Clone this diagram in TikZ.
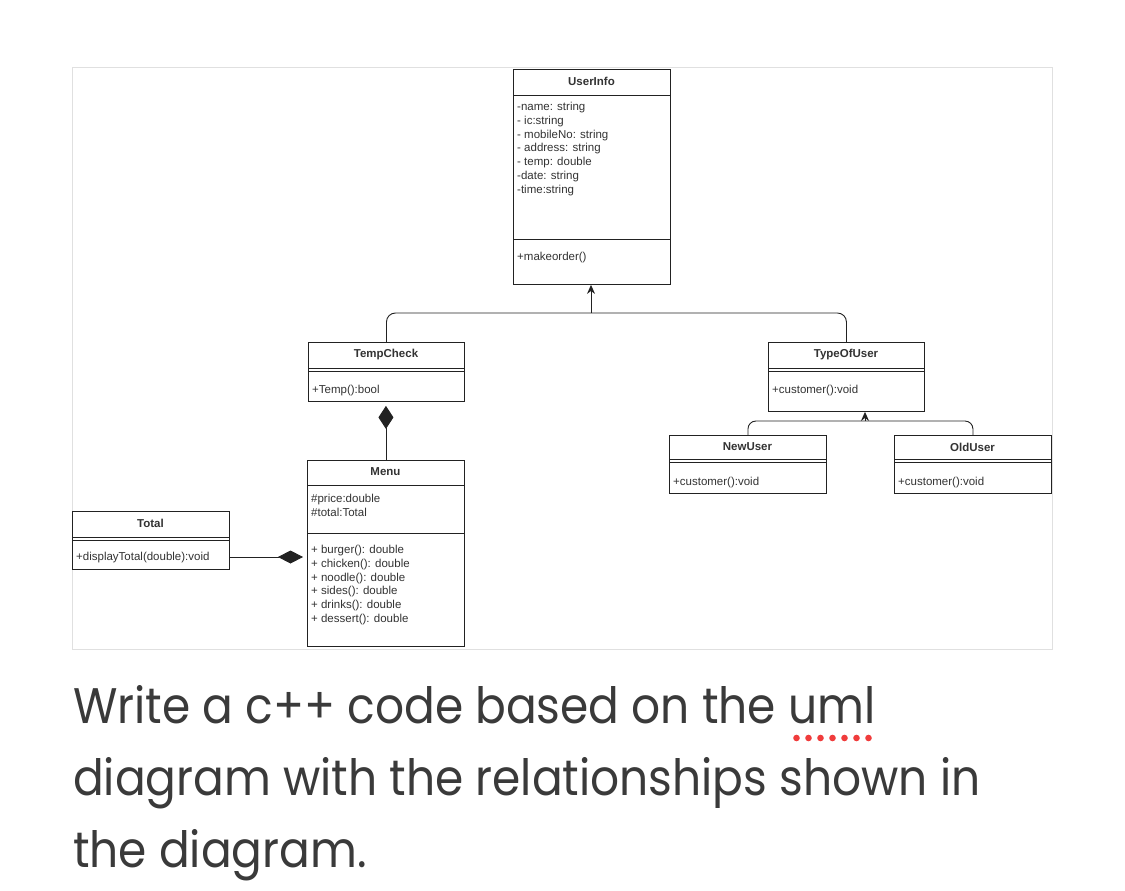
\documentclass[tikz,border=0pt]{standalone}
\usepackage{fontspec}
\setmainfont{Liberation Sans}
\newfontfamily\popfont{Poppins}
\usetikzlibrary{arrows.meta}
\definecolor{linec}{HTML}{222222}
\definecolor{txtc}{HTML}{333333}
\definecolor{framec}{HTML}{E0E0E0}
\definecolor{bigtxt}{HTML}{3A3A3A}
\definecolor{dotred}{HTML}{F03C3C}
\newcommand{\bigline}[1]{\scalebox{0.91}[1]{#1}}
\tikzset{
  cls/.style={draw=linec, line width=0.9pt, rectangle, anchor=north west, inner sep=0pt, fill=white},
  ctitle/.style={font=\fontsize{11.5}{13.8}\selectfont\bfseries, text=txtc, inner sep=0pt},
  cbody/.style={font=\fontsize{11.5}{13.8}\selectfont, text=txtc, inner sep=0pt, anchor=north west, align=left},
  sep/.style={draw=linec, line width=0.9pt},
  conn/.style={draw=linec, line width=0.9pt},
  bigtext/.style={font=\popfont\fontsize{50}{72}\selectfont, text=bigtxt, inner sep=0pt, anchor=base west},
}
\begin{document}
\begin{tikzpicture}[x=1pt,y=-1pt]
\useasboundingbox (0,0) rectangle (1125,891);
\fill[white] (0,0) rectangle (1125,891);
% frame
\draw[framec, line width=1pt] (72,68) rectangle (1052,649);

% UserInfo
\node[cls, minimum width=157pt, minimum height=215pt] (userinfo) at (513,69) {};
\node[ctitle] at (591.5,81) {UserInfo};
\draw[sep] (513,95) -- (670,95);
\node[cbody] at (517,102) {-name: string\\- ic:string\\- mobileNo: string\\- address: string\\- temp: double\\-date: string\\-time:string};
\draw[sep] (513,239) -- (670,239);
\node[cbody] at (517,252) {+makeorder()};

% TempCheck
\node[cls, minimum width=156pt, minimum height=59pt] (tempcheck) at (308,342) {};
\node[ctitle] at (386,355) {TempCheck};
\draw[sep] (308,368) -- (464,368);
\draw[sep] (308,371) -- (464,371);
\node[cbody] at (312,385) {+Temp():bool};

% TypeOfUser
\node[cls, minimum width=156pt, minimum height=69pt] (typeofuser) at (768,342) {};
\node[ctitle] at (846,355) {TypeOfUser};
\draw[sep] (768,368) -- (924,368);
\draw[sep] (768,371) -- (924,371);
\node[cbody] at (772,385) {+customer():void};

% NewUser
\node[cls, minimum width=157pt, minimum height=58pt] (newuser) at (669,435) {};
\node[ctitle] at (747.5,447) {NewUser};
\draw[sep] (669,459) -- (826,459);
\draw[sep] (669,462) -- (826,462);
\node[cbody] at (673,477) {+customer():void};

% OldUser
\node[cls, minimum width=157pt, minimum height=58pt] (olduser) at (894,435) {};
\node[ctitle] at (972.5,447) {OldUser};
\draw[sep] (894,459) -- (1051,459);
\draw[sep] (894,462) -- (1051,462);
\node[cbody] at (898,477) {+customer():void};

% Menu
\node[cls, minimum width=157pt, minimum height=186pt] (menu) at (307,460) {};
\node[ctitle] at (385.5,472) {Menu};
\draw[sep] (307,485) -- (464,485);
\node[cbody] at (311,494) {\#price:double\\\#total:Total};
\draw[sep] (307,533) -- (464,533);
\node[cbody] at (311,545) {+ burger(): double\\+ chicken(): double\\+ noodle(): double\\+ sides(): double\\+ drinks(): double\\+ dessert(): double};

% Total
\node[cls, minimum width=157pt, minimum height=58pt] (total) at (72,511) {};
\node[ctitle] at (150.5,523) {Total};
\draw[sep] (72,537) -- (229,537);
\draw[sep] (72,540) -- (229,540);
\node[cbody] at (76,552) {+displayTotal(double):void};

% generalization TempCheck / TypeOfUser -> UserInfo
\coordinate (j1) at (591,313);
\draw[conn, rounded corners=9pt] (tempcheck.north) |- (j1) -| (typeofuser.north);
\draw[conn, -{Stealth[length=9pt,width=8pt]}] (j1) -- (j1 |- userinfo.south);

% generalization NewUser / OldUser -> TypeOfUser
\coordinate (j2) at (865,421);
\draw[conn, rounded corners=8pt] (newuser.north) |- (j2) -| (olduser.north);
\draw[conn, -{Stealth[length=9pt,width=8pt]}] (j2) -- (j2 |- typeofuser.south);

% compositions
\draw[conn, -{Diamond[length=23pt,width=15pt]}, shorten >=4pt] (menu.north) -- (menu.north |- tempcheck.south);
\draw[conn, -{Diamond[length=25pt,width=13pt]}, shorten >=4pt] (total.east |- 0,557) -- (menu.west |- 0,557);

% question text
\node[bigtext] (l1) at (73,723) {\bigline{Write a c++ code based on the uml}};
\node[bigtext] (l2) at (73,795) {\bigline{diagram with the relationships shown in}};
\node[bigtext] (l3) at (73,867) {\bigline{the diagram.}};
\foreach \i in {0,...,6} {
  \fill[dotred] (796.5+12*\i,738) circle (3.3pt);
}
\end{tikzpicture}
\end{document}
